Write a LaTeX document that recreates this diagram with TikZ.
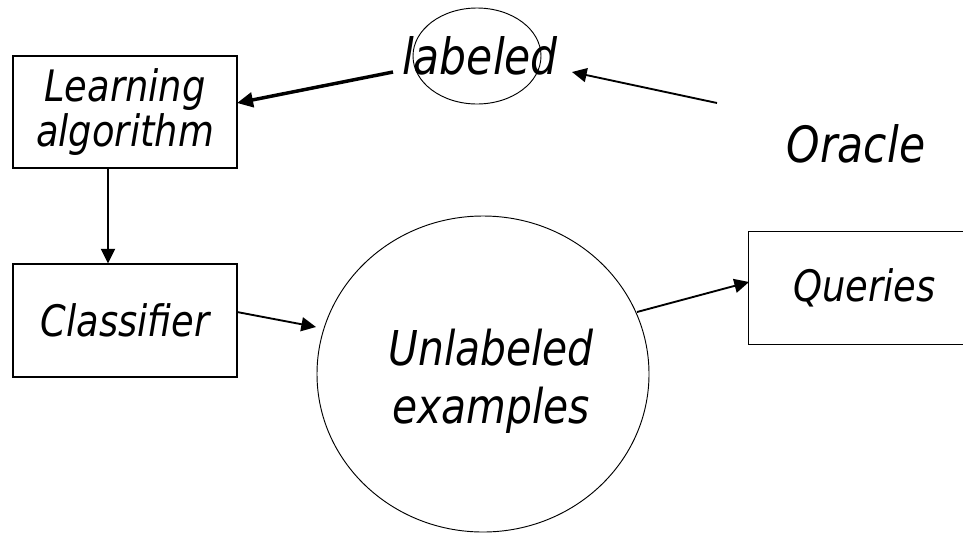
\documentclass[tikz,border=0pt]{standalone}
\usepackage{fontspec}
\setmainfont{DejaVu Sans}[FakeStretch=0.85]
\usetikzlibrary{arrows.meta,shapes.geometric}
\newcommand\boxfont{\fontsize{32.5}{33.75}\selectfont\itshape}
\newcommand\bigfont{\fontsize{36}{43.5}\selectfont\itshape}
\newcommand\labfont{\fontsize{37.5}{40}\selectfont\itshape}
\begin{document}
\begin{tikzpicture}[x=0.75pt,y=-0.75pt,
  box/.style={draw,line width=0.8pt,minimum width=168pt,minimum height=84pt,inner sep=0pt,align=center,font=\boxfont},
  openbox/.style={box,draw=none},
  edge/.style={line width=0.8pt},
  oval/.style={draw,ellipse,line width=0.7pt,inner sep=0pt},
  txt/.style={inner sep=0pt,align=center},
  arr/.style={line width=1.4pt,-{Triangle[length=11pt,width=10.5pt]}},
  thickarr/.style={line width=2.6pt,-{Triangle[length=12pt,width=11pt]}}]
\useasboundingbox (0,0) rectangle (963,533);
\clip (0,0) rectangle (963,533);
\node[box] (learn) at (125,112) {Learning\\algorithm};
\node[box,minimum height=84.75pt] (clf) at (125,320.5) {Classifier};
\node[openbox,minimum width=173pt] (qry) at (864.5,288) {Queries};
\draw[edge] (qry.north east) -- (qry.north west) -- (qry.south west) -- (qry.south east);
\node[oval,minimum width=249pt,minimum height=237pt] (unl) at (483,374) {};
\node[txt,font=\bigfont] (unltxt) at (491,381) {Unlabeled\\examples};
\node[oval,minimum width=96pt,minimum height=72pt] (lab) at (477,56) {};
\node[txt,font=\labfont] (labtxt) at (480,56) {labeled};
\node[txt,font=\labfont] (oracle) at (856,143.5) {Oracle};
\coordinate (labout) at (393,72);
\coordinate (learnin) at (237,103);
\coordinate (orout) at (717,103);
\coordinate (labin) at (572,72);
\coordinate (clfout) at (237,312);
\coordinate (unlin) at (316,327);
\coordinate (unlout) at (637,312);
\coordinate (qryin) at (749,282);
\draw[thickarr] (labout) -- (learnin);
\draw[arr] (orout) -- (labin);
\draw[arr] (learn.south -| 108,0) -- (clf.north -| 108,0);
\draw[arr] (clfout) -- (unlin);
\draw[arr] (unlout) -- (qryin);
\end{tikzpicture}
\end{document}
